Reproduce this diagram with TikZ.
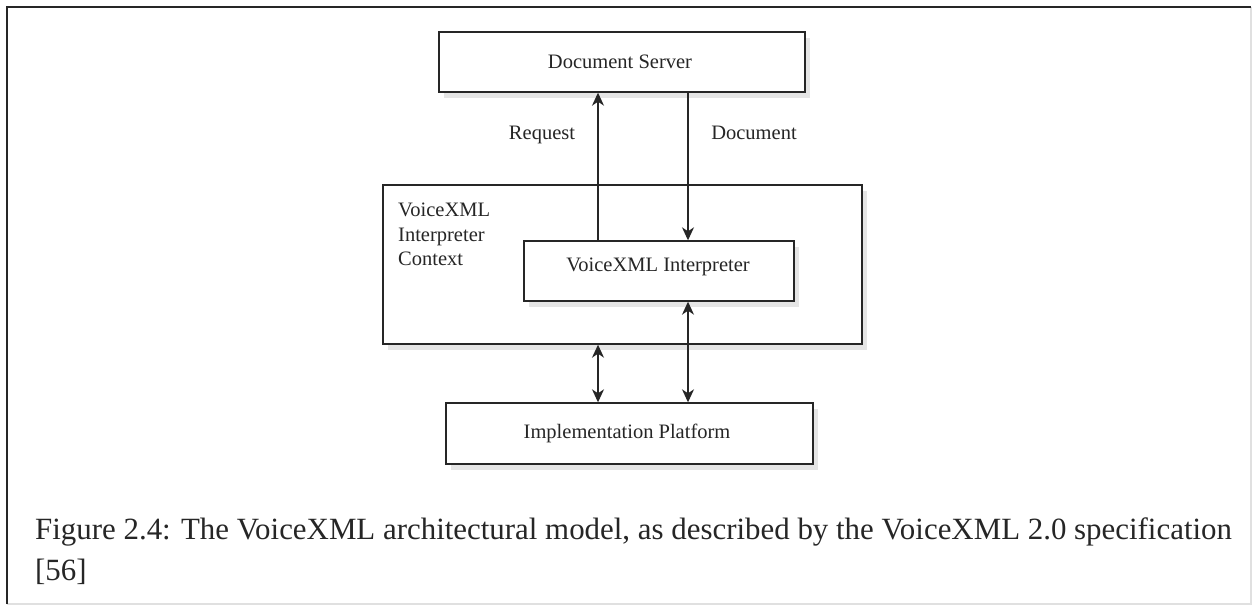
\documentclass[tikz,border=0pt]{standalone}
\usepackage{fontspec}
\setmainfont{Liberation Serif}
\usetikzlibrary{arrows.meta,shadows}

\tikzset{
  frameline/.style={line width=1.6pt, black!85},
  boxshadow/.style={drop shadow={shadow xshift=5pt, shadow yshift=-6pt, opacity=0.1, fill=black}},
  archbox/.style={draw=black!85, line width=1.4pt, fill=white, boxshadow, inner sep=0pt},
  boxtext/.style={font=\fontsize{20.5}{24}\selectfont, text=black!85, inner sep=0pt},
  tip/.style={Stealth[length=13pt, width=12pt, inset=4pt]},
  flow/.style={line width=1.3pt, draw=black!85, -{Stealth[length=13pt, width=12pt, inset=4pt]}},
  twoway/.style={line width=1.3pt, draw=black!85, {Stealth[length=13pt, width=12pt, inset=4pt]}-{Stealth[length=13pt, width=12pt, inset=4pt]}},
  captiontext/.style={font=\fontsize{30.9}{40}\selectfont, text=black!85, inner sep=0pt, anchor=west}
}

\begin{document}
\begin{tikzpicture}[x=1pt, y=-1pt]
  \useasboundingbox (0,0) rectangle (1253,606);
  \fill[white] (0,0) rectangle (1253,606);

  % page frame
  \draw[black!12, line width=1.2pt] (1251,7) -- (1251,604) -- (7,604);
  \draw[frameline] (7,604) -- (7,7) -- (1251,7);

  % boxes
  \node[archbox, minimum width=366pt, minimum height=60pt] (server) at (622,62) {};
  \node[boxtext] (serverlbl) at (620,62) {Document Server};

  \node[archbox, minimum width=479pt, minimum height=159pt] (context) at (622.5,264.5) {};
  \node[boxtext, anchor=north west, align=left, font=\fontsize{20.5}{24.5}\selectfont] (contextlbl) at (398,203) {VoiceXML\\Interpreter\\Context};

  \node[archbox, minimum width=270pt, minimum height=60pt] (interp) at (659,271) {};
  \node[boxtext] (interplbl) at (658,267) {VoiceXML Interpreter};

  \node[archbox, minimum width=367pt, minimum height=61pt] (platform) at (629.5,433.5) {};
  \node[boxtext] (platformlbl) at (627,433) {Implementation Platform};

  % connectors
  \coordinate (reqlow) at (598,241);
  \coordinate (doctop) at (688,92);
  \draw[flow] (interp.north -| reqlow) -- (server.south -| reqlow);
  \draw[flow] (server.south -| doctop) -- (interp.north -| doctop);
  \draw[twoway] (context.south -| reqlow) -- (platform.north -| reqlow);
  \draw[twoway] (interp.south -| doctop) -- (platform.north -| doctop);

  % connector labels
  \node[boxtext] (reqlbl) at (542,135) {Request};
  \node[boxtext] (doclbl) at (754,133) {Document};

  % caption
  \node[captiontext] (cap1) at (35,532) {Figure 2.4: The VoiceXML architectural model, as described by the VoiceXML 2.0 specification};
  \node[captiontext] (cap2) at (35,572) {[56]};
\end{tikzpicture}
\end{document}
